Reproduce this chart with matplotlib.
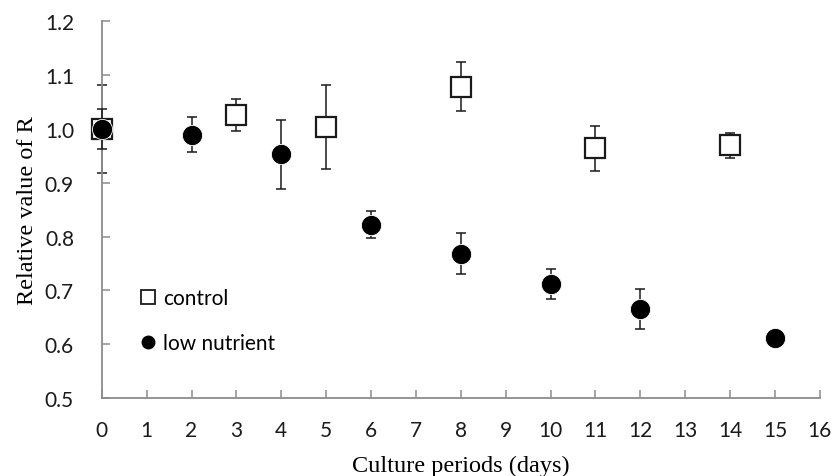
import numpy as np
import matplotlib
matplotlib.use("Agg")
import matplotlib.pyplot as plt

# control (squares)
ctrl_day = np.array([0, 3, 5, 8, 11, 14])
ctrl_val = np.array([1.000, 1.026, 1.003, 1.078, 0.964, 0.969])
ctrl_err = np.array([0.082, 0.030, 0.078, 0.045, 0.042, 0.024])

# low nutrient (circles)
low_day = np.array([0, 2, 4, 6, 8, 10, 12, 15])
low_val = np.array([1.000, 0.989, 0.953, 0.822, 0.768, 0.712, 0.665, 0.611])
low_err = np.array([0.037, 0.033, 0.064, 0.025, 0.038, 0.028, 0.037, 0.0])

xticks = np.arange(0, 17, 1)
yticks = np.arange(0.5, 1.21, 0.1)

sans = "Lato"
serif = "Liberation Serif"
axis_gray = "#8c8c8c"

fig = plt.figure(figsize=(8.34, 4.77), dpi=100)
ax = fig.add_axes([0.122, 0.163, 0.861, 0.791])

eb = ax.errorbar(ctrl_day, ctrl_val, yerr=ctrl_err, fmt="none", ecolor="#1a1a1a",
                 elinewidth=1.1, capsize=3.6, capthick=1.1, zorder=2)
for art in eb.lines[1] + eb.lines[2]:
    art.set_clip_on(False)
ax.plot(ctrl_day, ctrl_val, "s", ms=15, mfc="white", mec="#1a1a1a", mew=1.6,
        zorder=3, clip_on=False)
eb = ax.errorbar(low_day, low_val, yerr=low_err, fmt="none", ecolor="#1a1a1a",
                 elinewidth=1.1, capsize=3.6, capthick=1.1, zorder=4)
for art in eb.lines[1] + eb.lines[2]:
    art.set_clip_on(False)
ax.plot(low_day, low_val, "o", ms=14.5, mfc="black", mec="white", mew=0.6,
        zorder=5, clip_on=False)

# legend handles
h1, = ax.plot([], [], "s", ms=10.5, mfc="white", mec="#1a1a1a", mew=1.3,
              label="control")
h2, = ax.plot([], [], "o", ms=9, mfc="black", mec="black", label="low nutrient")
leg = ax.legend(handles=[h1, h2], loc="upper left", bbox_to_anchor=(0.04, 0.313),
                frameon=False, handlelength=0.9, handletextpad=0.25,
                labelspacing=1.2, borderaxespad=0.0,
                prop={"family": sans, "size": 15})

ax.set_xlim(0, 16)
ax.set_ylim(0.5, 1.2)
ax.set_xticks(xticks)
ax.set_yticks(yticks)
ax.set_yticklabels(["%.1f" % v for v in yticks])

for side in ["top", "right"]:
    ax.spines[side].set_visible(False)
for side in ["left", "bottom"]:
    ax.spines[side].set_color(axis_gray)
    ax.spines[side].set_linewidth(1.3)
ax.tick_params(direction="in", length=6, width=1.1, color=axis_gray,
               labelsize=15, pad=16)
ax.tick_params(axis="y", pad=20)
for lab in ax.get_xticklabels() + ax.get_yticklabels():
    lab.set_family(sans)
    lab.set_color("#1a1a1a")

ax.set_xlabel("Culture periods (days)", family=serif, fontsize=17.5,
              labelpad=10)
ax.set_ylabel("Relative value of R", family=serif, fontsize=17.5, labelpad=5)

fig.savefig("out.png", dpi=100)
